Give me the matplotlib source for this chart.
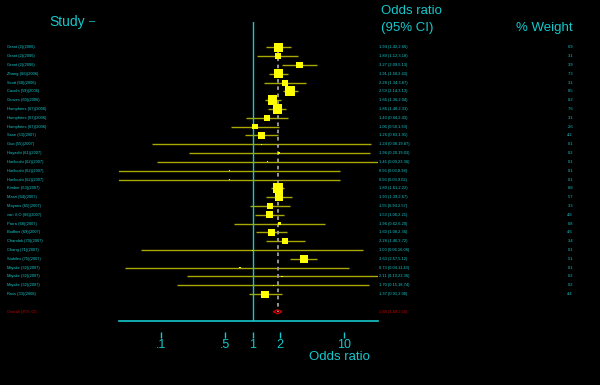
import matplotlib
matplotlib.use('Agg')
import matplotlib.pyplot as plt
import matplotlib.transforms as mtransforms

studies = ['Grant (2)(2006)', 'Grant (2)(2006)', 'Grant (2)(2006)', 'Zhang (66)(2006)',
           'Scott (68)(2006)', 'Cauchi (59)(2006)', 'Groves (60)(2006)',
           'Humphries (67)(2006)', 'Humphries (67)(2006)', 'Humphries (67)(2006)',
           'Saxe (53)(2007)', 'Guo (55)(2007)', 'Hayashi (61)(2007)',
           'Horikoshi (62)(2007)', 'Horikoshi (62)(2007)', 'Horikoshi (62)(2007)',
           'Kimber (63)(2007)', 'Marzi (64)(2007)', 'Mayans (65)(2007)',
           'van V-O (66)(2007)', 'Parra (68)(2007)', 'Bodhini (69)(2007)',
           'Chandak (70)(2007)', 'Chang (71)(2007)', 'Stabiles (75)(2007)',
           'Miyake (32)(2007)', 'Miyake (32)(2007)', 'Miyake (32)(2007)',
           'Ross (33)(2008)']
odds = [1.94, 1.89, 3.27, 1.91, 2.28, 2.59, 1.66, 1.86, 1.43, 1.06,
        1.26, 1.24, 1.96, 1.45, 0.56, 0.56, 1.89, 1.93, 1.55, 1.53,
        1.96, 1.60, 2.28, 1.00, 3.63, 0.73, 2.11, 1.70, 1.37]
ci_low = [1.42, 1.12, 2.09, 1.50, 1.34, 2.14, 1.36, 1.48, 0.84, 0.58,
          0.83, 0.08, 0.20, 0.09, 0.03, 0.03, 1.61, 1.39, 0.94, 1.06,
          0.62, 1.08, 1.40, 0.06, 2.57, 0.04, 0.19, 0.15, 0.91]
ci_high = [2.66, 3.18, 5.13, 2.43, 3.87, 3.13, 2.04, 2.33, 2.43, 1.93,
           1.91, 19.87, 19.03, 23.36, 8.94, 9.02, 2.22, 2.67, 2.57, 2.21,
           6.20, 2.36, 3.72, 16.08, 5.12, 11.43, 23.36, 18.74, 2.08]
weights = [6.9, 3.1, 3.9, 7.3, 3.1, 8.5, 8.2, 7.6, 3.1, 2.6,
           4.2, 0.1, 0.2, 0.1, 0.1, 0.1, 8.8, 5.7, 3.3, 4.8,
           0.8, 4.6, 3.4, 0.1, 5.1, 0.1, 0.2, 0.2, 4.4]
overall = (1.88, 1.68, 2.10)

tick_vals = [0.1, 0.5, 1, 2, 10]
tick_labels = ['.1', '.5', '1', '2', '10']

cyan = '#14c8cc'
red = '#c80000'
W, H = 600, 385

plt.rcParams['font.family'] = ['Liberation Sans', 'DejaVu Sans']
fig = plt.figure(figsize=(W / 100, H / 100), dpi=100, facecolor='black')
ax = fig.add_axes([119.3 / W, 1 - 321 / H, 258.4 / W, (321 - 22) / H])
ax.set_facecolor('black')
ax.set_xscale('log')
ax.set_xlim(0.035, 23.36)
ax.set_ylim(31.05, -2.87)

rows = list(range(len(studies)))
ov_row = len(studies) + 1

# confidence intervals and weighted boxes
ax.hlines(rows, ci_low, ci_high, color='#a8a800', lw=1)
ax.scatter(odds, rows, marker='s', s=[5.9 * w for w in weights],
           color='#ffff00', linewidths=0, zorder=3)

# overall estimate
ax.vlines(overall[0], -0.5, ov_row, color='#a0a0a0', lw=1.3,
          linestyles=(0, (2, 2)), zorder=2)
ax.fill([overall[1], overall[0], overall[2], overall[0]],
        [ov_row, ov_row - 0.22, ov_row, ov_row + 0.22],
        facecolor='none', edgecolor=red, lw=1, zorder=4)
ax.axvline(1, color=cyan, lw=1)
ax.axhline(ax.get_ylim()[0], color=cyan, lw=1.2, clip_on=False)

# axis styling
for s in ['top', 'right', 'left']:
    ax.spines[s].set_visible(False)
ax.spines['bottom'].set_position(('outward', 12.2))
ax.spines['bottom'].set_visible(False)
ax.set_yticks([])
ax.set_xticks(tick_vals)
ax.set_xticklabels(tick_labels)
ax.minorticks_off()
ax.tick_params(axis='x', direction='in', length=4.3, width=1, color=cyan,
               labelcolor=cyan, labelsize=9, pad=0.5)

# row texts
tr = mtransforms.blended_transform_factory(fig.transFigure, ax.transData)
for i in rows:
    ax.text(7 / W, i, studies[i], transform=tr, color=cyan, fontsize=2.9,
            va='center', ha='left')
    ax.text(379 / W, i, f'{odds[i]:.2f} ({ci_low[i]:.2f},{ci_high[i]:.2f})',
            transform=tr, color=cyan, fontsize=2.9, va='center', ha='left')
    ax.text(573 / W, i, f'{weights[i]:.1f}', transform=tr, color=cyan,
            fontsize=2.9, va='center', ha='right')
ax.text(7 / W, ov_row, 'Overall (95% CI)', transform=tr, color=red,
        fontsize=2.9, va='center', ha='left')
ax.text(379 / W, ov_row, f'{overall[0]:.2f} ({overall[1]:.2f},{overall[2]:.2f})',
        transform=tr, color=red, fontsize=2.9, va='center', ha='left')

# headers
fig.text(49 / W, 1 - 22 / H, 'Study', color=cyan, fontsize=10, va='center')
fig.text(89 / W, 1 - 21 / H, '\u2013', color=cyan, fontsize=8, va='center')
fig.text(381 / W, 1 - 11.5 / H, 'Odds ratio', color=cyan, fontsize=9.5, va='center')
fig.text(381 / W, 1 - 28 / H, '(95% CI)', color=cyan, fontsize=9.5, va='center')
fig.text(573 / W, 1 - 28 / H, '% Weight', color=cyan, fontsize=9.5,
         va='center', ha='right')
fig.text(339.5 / W, 1 - 357 / H, 'Odds ratio', color=cyan, fontsize=9.5,
         va='center', ha='center')

fig.savefig('out.png', dpi=100, facecolor='black')
